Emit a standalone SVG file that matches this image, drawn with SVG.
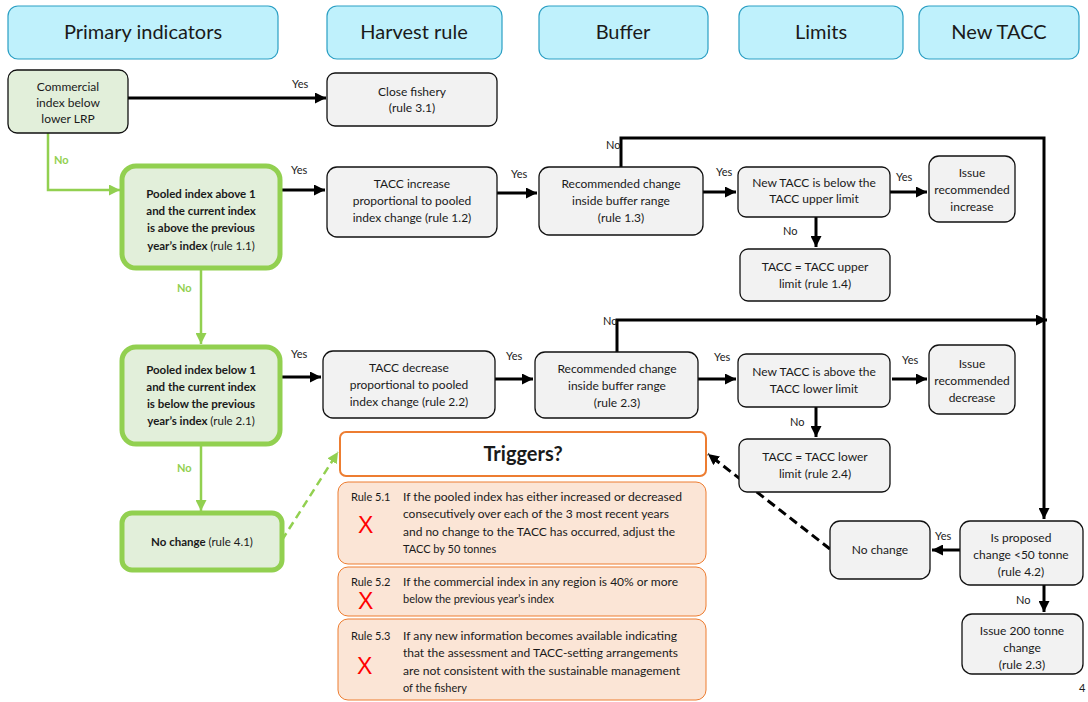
<svg xmlns="http://www.w3.org/2000/svg" width="1088" height="702" viewBox="0 0 1088 702">
<defs>
<marker id="ab" markerUnits="userSpaceOnUse" markerWidth="12" markerHeight="11" refX="11" refY="5.5" orient="auto"><path d="M0,0 L11,5.5 L0,11 z" fill="#000"/></marker>
<marker id="ag" markerUnits="userSpaceOnUse" markerWidth="12" markerHeight="11" refX="11" refY="5.5" orient="auto"><path d="M0,0 L11,5.5 L0,11 z" fill="#92d050"/></marker>
<style>
text{font-family:Lato,"Liberation Sans",sans-serif;fill:#1a1a1a}
.hdr rect{fill:#bff1fc;stroke:#2a9fc4;stroke-width:1.2}
.hdr text{font-size:20px;text-anchor:middle}
.n rect{fill:#f2f2f2;stroke:#111;stroke-width:1.3}
.c rect{fill:#e2efda;stroke:#111;stroke-width:1.3}
.g rect{fill:#e2efda;stroke:#92d050;stroke-width:5}
.n text,.c text,.g text{font-size:12px;text-anchor:middle}
.g text{font-size:11.5px;font-weight:bold}
.g tspan.r{font-weight:normal}
.tr rect{fill:#fff;stroke:#ed7d31;stroke-width:2}
.ru rect{fill:#fbe5d6;stroke:#ed7d31;stroke-width:1}
.ru text{font-size:11px}
.ru text.x{fill:#ff0000;font-size:23px;font-family:"Liberation Sans",sans-serif}
.lb{font-size:11px}
.gl{font-size:11px;fill:#92d050;font-weight:bold}
.k{fill:none;stroke:#000;stroke-width:3;marker-end:url(#ab)}
.kg{fill:none;stroke:#92d050;stroke-width:2.5;marker-end:url(#ag)}
</style>
</defs>

<g id="headers">
<g id="h-primary" class="hdr"><rect x="8" y="6" width="270" height="53" rx="10"/><text x="143" y="39">Primary indicators</text></g>
<g id="h-harvest" class="hdr"><rect x="327" y="6" width="175" height="53" rx="10"/><text x="414" y="39">Harvest rule</text></g>
<g id="h-buffer" class="hdr"><rect x="539" y="6" width="169" height="53" rx="10"/><text x="623" y="39">Buffer</text></g>
<g id="h-limits" class="hdr"><rect x="739" y="6" width="164" height="53" rx="10"/><text x="821" y="39">Limits</text></g>
<g id="h-newtacc" class="hdr"><rect x="919" y="6" width="160" height="53" rx="10"/><text x="999" y="39">New TACC</text></g>
</g>

<g id="connectors">
<path class="k" d="M128,98 H326"/>
<path class="kg" d="M48,133 V190 H120"/>
<path class="k" d="M280,190 H325"/>
<path class="k" d="M497,193 H537"/>
<path class="k" d="M621,167 V138 H1044 V519"/>
<path class="k" d="M703,192 H736"/>
<path class="k" d="M890,192 H927"/>
<path class="k" d="M816,217 V247"/>
<path class="kg" d="M201,268 V344"/>
<path class="k" d="M280,377 H321"/>
<path class="k" d="M495,379 H533"/>
<path class="k" d="M617,352 V320 H1047"/>
<path class="k" d="M698,379 H736"/>
<path class="k" d="M892,379 H927"/>
<path class="k" d="M816,407 V437"/>
<path class="kg" d="M201,444 V511"/>
<path class="kg" d="M282,540 L338,452" stroke-dasharray="8 5" stroke-width="3"/>
<path class="k" d="M1044,585 V612"/>
<path class="k" d="M960,550 H932"/>
<path class="k" d="M830,549 L708,454" stroke-dasharray="9 5"/>
</g>

<g id="labels">
<text class="lb" x="292" y="88">Yes</text>
<text class="gl" x="54" y="164">No</text>
<text class="lb" x="291" y="174">Yes</text>
<text class="lb" x="511" y="178">Yes</text>
<text class="lb" x="606" y="149">No</text>
<text class="lb" x="716" y="176">Yes</text>
<text class="lb" x="896" y="181">Yes</text>
<text class="lb" x="783" y="235">No</text>
<text class="gl" x="177" y="292">No</text>
<text class="lb" x="291" y="358">Yes</text>
<text class="lb" x="506" y="360">Yes</text>
<text class="lb" x="603" y="325">No</text>
<text class="lb" x="714" y="361">Yes</text>
<text class="lb" x="902" y="364">Yes</text>
<text class="lb" x="790" y="426">No</text>
<text class="gl" x="177" y="472">No</text>
<text class="lb" x="935" y="540">Yes</text>
<text class="lb" x="1016" y="604">No</text>
<text class="lb" x="1079" y="692">4</text>
</g>

<g id="n-commercial" class="c"><rect x="8" y="70" width="120" height="63" rx="9"/>
<text x="68" y="91">Commercial</text><text x="68" y="107">index below</text><text x="68" y="123">lower LRP</text></g>

<g id="n-close" class="n"><rect x="327" y="73" width="170" height="53" rx="8"/>
<text x="412" y="96">Close fishery</text><text x="412" y="112">(rule 3.1)</text></g>

<g id="n-pooled-above" class="g"><rect x="122" y="166" width="158" height="102" rx="14"/>
<text x="201" y="198">Pooled index above 1</text><text x="201" y="215">and the current index</text><text x="201" y="232">is above the previous</text><text x="201" y="250">year’s index <tspan class="r">(rule 1.1)</tspan></text></g>

<g id="n-increase" class="n"><rect x="327" y="167" width="170" height="70" rx="10"/>
<text x="412" y="188">TACC increase</text><text x="412" y="205">proportional to pooled</text><text x="412" y="222">index change (rule 1.2)</text></g>

<g id="n-buffer1" class="n"><rect x="539" y="167" width="164" height="68" rx="10"/>
<text x="621" y="188">Recommended change</text><text x="621" y="205">inside buffer range</text><text x="621" y="222">(rule 1.3)</text></g>

<g id="n-below-upper" class="n"><rect x="738" y="167" width="152" height="50" rx="8"/>
<text x="814" y="187">New TACC is below the</text><text x="814" y="203">TACC upper limit</text></g>

<g id="n-issue-inc" class="n"><rect x="929" y="156" width="86" height="66" rx="10"/>
<text x="972" y="177">Issue</text><text x="972" y="194">recommended</text><text x="972" y="211">increase</text></g>

<g id="n-upper" class="n"><rect x="740" y="249" width="150" height="52" rx="8"/>
<text x="815" y="271">TACC = TACC upper</text><text x="815" y="288">limit (rule 1.4)</text></g>

<g id="n-pooled-below" class="g"><rect x="122" y="347" width="158" height="97" rx="14"/>
<text x="201" y="374">Pooled index below 1</text><text x="201" y="391">and the current index</text><text x="201" y="408">is below the previous</text><text x="201" y="425">year’s index <tspan class="r">(rule 2.1)</tspan></text></g>

<g id="n-decrease" class="n"><rect x="323" y="351" width="172" height="67" rx="10"/>
<text x="409" y="372">TACC decrease</text><text x="409" y="389">proportional to pooled</text><text x="409" y="406">index change (rule 2.2)</text></g>

<g id="n-buffer2" class="n"><rect x="535" y="352" width="163" height="66" rx="10"/>
<text x="617" y="373">Recommended change</text><text x="617" y="390">inside buffer range</text><text x="617" y="407">(rule 2.3)</text></g>

<g id="n-above-lower" class="n"><rect x="738" y="354" width="152" height="53" rx="8"/>
<text x="814" y="376">New TACC is above the</text><text x="814" y="393">TACC lower limit</text></g>

<g id="n-issue-dec" class="n"><rect x="929" y="345" width="86" height="69" rx="10"/>
<text x="972" y="368">Issue</text><text x="972" y="385">recommended</text><text x="972" y="402">decrease</text></g>

<g id="n-lower" class="n"><rect x="739" y="439" width="151" height="53" rx="8"/>
<text x="815" y="461">TACC = TACC lower</text><text x="815" y="478">limit (rule 2.4)</text></g>

<g id="n-nochange41" class="g"><rect x="122" y="513" width="160" height="57" rx="10"/>
<text x="202" y="546">No change <tspan class="r">(rule 4.1)</tspan></text></g>

<g id="n-triggers" class="tr"><rect x="340" y="432" width="366" height="44" rx="6"/>
<text x="523" y="461" text-anchor="middle" font-size="20" font-weight="bold">Triggers?</text></g>

<g id="n-rule51" class="ru"><rect x="338" y="482" width="368" height="82" rx="10"/>
<text x="351" y="501">Rule 5.1</text>
<text x="403" y="501" textLength="279" lengthAdjust="spacingAndGlyphs">If the pooled index has either increased or decreased</text>
<text x="403" y="518" textLength="266" lengthAdjust="spacingAndGlyphs">consecutively over each of the 3 most recent years</text>
<text x="403" y="536" textLength="272" lengthAdjust="spacingAndGlyphs">and no change to the TACC has occurred, adjust the</text>
<text x="403" y="553">TACC by 50 tonnes</text>
<text class="x" x="358" y="533">X</text></g>

<g id="n-rule52" class="ru"><rect x="338" y="567" width="368" height="49" rx="10"/>
<text x="351" y="586">Rule 5.2</text>
<text x="403" y="586" textLength="275" lengthAdjust="spacingAndGlyphs">If the commercial index in any region is 40% or more</text>
<text x="403" y="603">below the previous year’s index</text>
<text class="x" x="358" y="609">X</text></g>

<g id="n-rule53" class="ru"><rect x="338" y="619" width="368" height="81" rx="10"/>
<text x="351" y="640">Rule 5.3</text>
<text x="403" y="640" textLength="274" lengthAdjust="spacingAndGlyphs">If any new information becomes available indicating</text>
<text x="403" y="657" textLength="275" lengthAdjust="spacingAndGlyphs">that the assessment and TACC-setting arrangements</text>
<text x="403" y="675" textLength="277" lengthAdjust="spacingAndGlyphs">are not consistent with the sustainable management</text>
<text x="403" y="692">of the fishery</text>
<text class="x" x="357" y="674">X</text></g>

<g id="n-nochange" class="n"><rect x="830" y="521" width="100" height="58" rx="10"/>
<text x="880" y="554">No change</text></g>

<g id="n-proposed" class="n"><rect x="960" y="521" width="123" height="64" rx="10"/>
<text x="1021" y="542">Is proposed</text><text x="1021" y="559">change &lt;50 tonne</text><text x="1021" y="576">(rule 4.2)</text></g>

<g id="n-issue200" class="n"><rect x="962" y="614" width="121" height="60" rx="10"/>
<text x="1022" y="635">Issue 200 tonne</text><text x="1022" y="652">change</text><text x="1022" y="669">(rule 2.3)</text></g>
</svg>
